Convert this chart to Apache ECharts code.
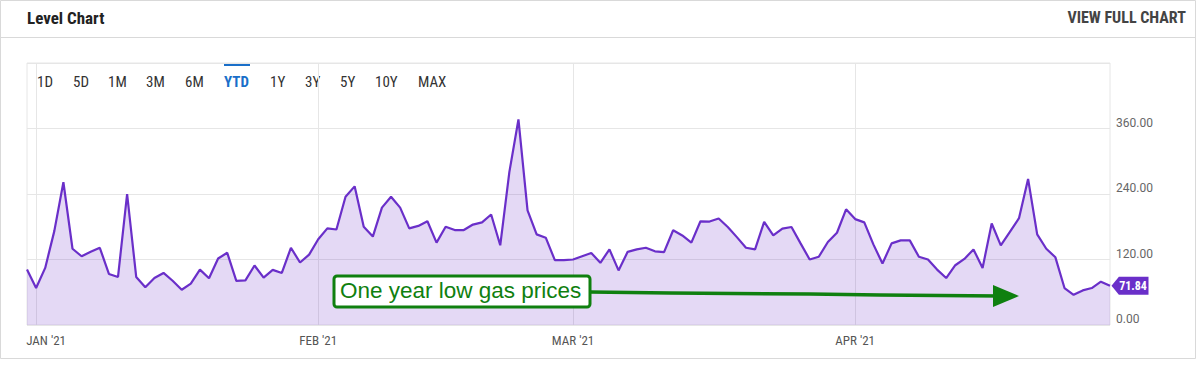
<!DOCTYPE html>
<html>
<head>
<meta charset="utf-8">
<script src="https://cdn.jsdelivr.net/npm/echarts@6/dist/echarts.min.js"></script>
<style>
html,body{margin:0;padding:0;background:#fff;}
#chart{width:1200px;height:365px;}
</style>
</head>
<body>
<div id="chart"></div>
<script>
// ---- data ----
var startDate = '2020-12-31';
var values = [
  101.5, 67.7, 104.6, 172, 261.5, 139.7, 126, 134, 141.5, 93.5,
  88, 240, 88, 69, 86, 95.4, 81, 64.6, 75.7, 101.5,
  85.5, 121.8, 132.3, 81, 81.8, 109, 86.8, 101, 95.4, 141.5,
  114.5, 129, 157, 177, 175, 235, 254, 180, 162, 215,
  235, 215, 177, 181.5, 190, 151, 180, 174, 174, 184,
  188, 202.5, 146, 280, 376.6, 210, 166, 160, 118.8, 118.8,
  120, 126, 132, 114, 138.5, 100, 134, 138.5, 141.5, 135,
  133.5, 173.5, 164, 151, 190, 189.5, 195, 179.6, 161, 141.5,
  138.5, 189, 164, 176.6, 179.6, 149.5, 120, 125, 152, 169,
  212, 194, 188, 147.7, 112.6, 149.5, 155, 155, 125, 120,
  101.5, 86, 109.5, 121, 138.5, 104.6, 186, 146, 170.5, 195.7,
  267.7, 166, 139.7, 124, 67.7, 55.4, 63.4, 67.7, 79.4, 71.84
];
var monthLabels = {'2021-01-01': "JAN '21", '2021-02-01': "FEB '21", '2021-03-01': "MAR '21", '2021-04-01': "APR '21"};
var yTicks = [0, 120, 240, 360];
var rangeButtons = ['1D', '5D', '1M', '3M', '6M', 'YTD', '1Y', '3Y', '5Y', '10Y', 'MAX'];
var activeRange = 'YTD';
var annotationText = 'One year low gas prices';

// ---- categories (consecutive calendar days) ----
var dates = [];
(function(){
  var d = new Date(startDate + 'T00:00:00Z');
  for (var i = 0; i < values.length; i++) {
    dates.push(d.toISOString().slice(0, 10));
    d.setUTCDate(d.getUTCDate() + 1);
  }
})();
function isMonthStart(idx) { return monthLabels.hasOwnProperty(dates[idx]); }

var condensed = "'Roboto Condensed','Liberation Sans Narrow','DejaVu Sans Condensed',Roboto,sans-serif";
var purple = '#6a2fc9';
var green = '#0f800f';

// range buttons
var btnX = [37, 73, 108, 146, 185, 224, 270, 305, 340, 375, 418];
var graphics = [
  {type: 'rect', shape: {x: 0.5, y: 0.5, width: 1195, height: 358}, style: {fill: 'none', stroke: '#d9d9d9', lineWidth: 1}, silent: true},
  {type: 'line', shape: {x1: 0, y1: 37.5, x2: 1195, y2: 37.5}, style: {stroke: '#d9d9d9', lineWidth: 1}, silent: true},
  {type: 'text', left: 27, top: 9, style: {text: 'Level Chart', font: 'bold 17px ' + condensed, fill: '#222'}},
  {type: 'text', right: 14, top: 9, style: {text: 'VIEW FULL CHART', font: 'bold 16px ' + condensed, fill: '#444'}},
  {type: 'rect', shape: {x: 224, y: 63, width: 26, height: 3}, style: {fill: '#1a6fc9'}, silent: true}
];
rangeButtons.forEach(function(b, i){
  var active = b === activeRange;
  graphics.push({type: 'text', left: btnX[i], top: 74, style: {text: b, font: (active ? 'bold ' : '') + '15px ' + condensed, fill: active ? '#1a6fc9' : '#333'}});
});
// annotation
graphics.push(
  {type: 'polyline', z: 100, shape: {points: [[590, 292], [670, 293], [810, 294], [880, 295], [1000, 296]]}, style: {stroke: green, lineWidth: 3.5, fill: null}, silent: true},
  {type: 'polygon', z: 100, shape: {points: [[993, 285], [1019, 296], [993, 307]]}, style: {fill: green}, silent: true},
  {type: 'rect', z: 100, shape: {x: 334, y: 276, width: 256, height: 31, r: 3}, style: {fill: '#ffffff', stroke: green, lineWidth: 3}, silent: true},
  {type: 'text', z: 101, left: 340, top: 279, style: {text: annotationText, font: '22.5px "Liberation Sans", Arial, sans-serif', fill: green}}
);

var chart = echarts.init(document.getElementById('chart'), null, {renderer: 'svg'});
chart.setOption({
  animation: false,
  grid: {left: 27, right: 90, top: 63, bottom: 40, show: true, borderColor: '#e6e6e6', borderWidth: 1},
  xAxis: {
    type: 'category',
    data: dates,
    boundaryGap: false,
    axisLine: {show: false},
    axisTick: {show: false},
    axisLabel: {
      interval: function(idx){ return isMonthStart(idx); },
      formatter: function(v){
        var t = monthLabels[v] || '';
        return v === '2021-01-01' ? '{j|' + t + '}' : t;
      },
      rich: {j: {padding: [0, 0, 0, 20], fontFamily: condensed, fontSize: 13, color: '#555'}},
      fontFamily: condensed, fontSize: 13, color: '#555', margin: 9
    },
    splitLine: {show: true, interval: function(idx){ return isMonthStart(idx); }, lineStyle: {color: '#e6e6e6', width: 1}}
  },
  yAxis: {
    type: 'value',
    position: 'right',
    min: 0, max: 480, interval: 120,
    axisLine: {show: false},
    axisTick: {show: false},
    axisLabel: {
      formatter: function(v){ return yTicks.indexOf(v) >= 0 ? v.toFixed(2) : ''; },
      fontFamily: 'Roboto, sans-serif', fontSize: 12, color: '#666', margin: 6,
      verticalAlign: 'bottom', align: 'left'
    },
    splitLine: {lineStyle: {color: '#e6e6e6', width: 1}}
  },
  graphic: graphics,
  series: [{
    type: 'line',
    data: values,
    symbol: 'none',
    lineStyle: {color: purple, width: 2.2},
    itemStyle: {color: purple},
    areaStyle: {color: 'rgba(106,47,201,0.26)'},
    markPoint: {
      symbol: 'path://M0,9 L8,0 L40,0 L40,18 L8,18 Z',
      symbolSize: [37, 18],
      symbolKeepAspect: false,
      symbolOffset: [20, 0],
      itemStyle: {color: purple},
      label: {show: true, color: '#fff', fontWeight: 'bold', fontSize: 12, fontFamily: condensed, offset: [3, 0], formatter: function(p){ return p.value.toFixed(2); }},
      data: [{coord: [values.length - 1, values[values.length - 1]], value: values[values.length - 1]}]
    }
  }]
});
</script>
</body>
</html>
